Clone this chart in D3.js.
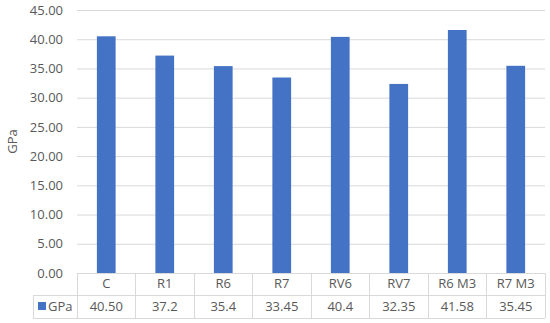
<!DOCTYPE html>
<html>
<head>
<meta charset="utf-8">
<script src="https://cdn.jsdelivr.net/npm/d3@7"></script>
<style>
  body { margin: 0; background: #fff; }
  svg text { font-family: "Open Sans", sans-serif; fill: #595959; }
</style>
</head>
<body>
<div id="chart"></div>
<script>
  // data
  const categories = ["C", "R1", "R6", "R7", "RV6", "RV7", "R6 M3", "R7 M3"];
  const values = [40.50, 37.2, 35.4, 33.45, 40.4, 32.35, 41.58, 35.45];
  const valueLabels = ["40.50", "37.2", "35.4", "33.45", "40.4", "32.35", "41.58", "35.45"];
  const yTicks = [0, 5, 10, 15, 20, 25, 30, 35, 40, 45];
  const seriesName = "GPa";

  const width = 550, height = 323;
  const plotLeft = 77, plotRight = 545, plotTop = 10, plotBottom = 273;
  const tableLeft = 33, row1 = 295, row2 = 318;
  const grid = "#d9d9d9", barColor = "#4472c4";

  const svg = d3.select("#chart").append("svg")
    .attr("width", width)
    .attr("height", height);

  const x = d3.scaleBand()
    .domain(categories)
    .range([plotLeft, plotRight])
    .paddingInner(0)
    .paddingOuter(0);

  const y = d3.scaleLinear()
    .domain([0, 45])
    .range([plotBottom, plotTop]);

  // gridlines + y labels
  const yAxis = d3.axisLeft(y)
    .tickValues(yTicks)
    .tickSize(-(plotRight - plotLeft))
    .tickPadding(14)
    .tickFormat(d3.format(".2f"));

  const gy = svg.append("g")
    .attr("transform", "translate(" + plotLeft + ",0)")
    .call(yAxis);
  gy.select(".domain").remove();
  gy.selectAll(".tick line").attr("stroke", grid).attr("stroke-width", 1);
  gy.selectAll(".tick text")
    .attr("fill", "#595959")
    .style("font-size", "13px")
    .style("font-family", "'Open Sans', sans-serif");

  // y title
  svg.append("text")
    .attr("transform", "translate(17," + ((plotTop + plotBottom) / 2) + ") rotate(-90)")
    .attr("text-anchor", "middle")
    .style("font-size", "13px")
    .text(seriesName);

  // bars
  const barW = x.bandwidth() * 0.32;
  svg.append("g").selectAll("rect")
    .data(values)
    .enter()
    .append("rect")
    .attr("x", (d, i) => x(categories[i]) + (x.bandwidth() - barW) / 2)
    .attr("y", d => y(d))
    .attr("width", barW)
    .attr("height", d => y(0) - y(d))
    .attr("fill", barColor);

  // data table
  const table = svg.append("g")
    .attr("stroke", grid)
    .attr("stroke-width", 1)
    .attr("shape-rendering", "crispEdges");

  table.append("line").attr("x1", tableLeft).attr("x2", plotRight).attr("y1", row1).attr("y2", row1);
  table.append("line").attr("x1", tableLeft).attr("x2", plotRight).attr("y1", row2).attr("y2", row2);
  table.append("line").attr("x1", tableLeft).attr("x2", tableLeft).attr("y1", row1).attr("y2", row2);

  table.selectAll("line.v")
    .data(categories.map(c => x(c)).concat([plotRight]))
    .enter()
    .append("line")
    .attr("class", "v")
    .attr("x1", d => d).attr("x2", d => d)
    .attr("y1", plotBottom).attr("y2", row2);

  svg.append("g").selectAll("text")
    .data(categories)
    .enter()
    .append("text")
    .attr("x", d => x(d) + x.bandwidth() / 2)
    .attr("y", 288)
    .attr("text-anchor", "middle")
    .style("font-size", "13px")
    .text(d => d);

  svg.append("g").selectAll("text")
    .data(valueLabels)
    .enter()
    .append("text")
    .attr("x", (d, i) => x(categories[i]) + x.bandwidth() / 2)
    .attr("y", 311)
    .attr("text-anchor", "middle")
    .style("font-size", "13px")
    .text(d => d);

  // legend key in table
  svg.append("rect")
    .attr("x", 38).attr("y", 302)
    .attr("width", 8).attr("height", 8)
    .attr("fill", barColor);
  svg.append("text")
    .attr("x", 48).attr("y", 311)
    .style("font-size", "13px")
    .text(seriesName);
</script>
</body>
</html>
